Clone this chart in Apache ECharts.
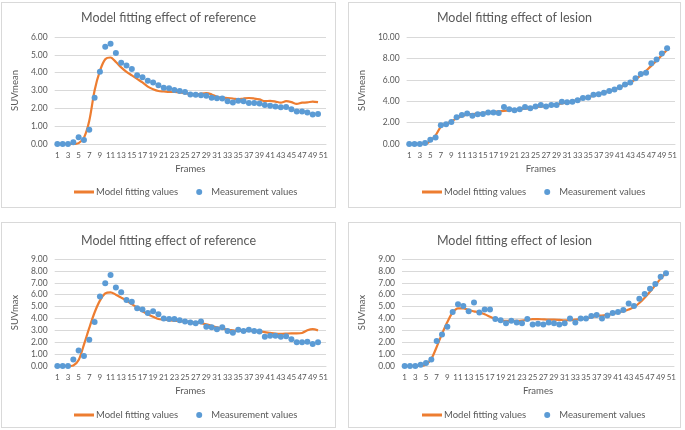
<!DOCTYPE html>
<html><head><meta charset="utf-8">
<script src="https://cdn.jsdelivr.net/npm/echarts@6/dist/echarts.min.js"></script>
<style>
html,body{margin:0;padding:0;background:#fff;width:685px;height:430px;overflow:hidden;}
.p{position:absolute;border:1px solid #d9d9d9;background:#fff;box-sizing:border-box;}
</style></head><body>
<div id="c1" class="p" style="left:1px;top:2px;width:335px;height:206px"></div>
<div id="c2" class="p" style="left:348px;top:2px;width:333px;height:206px"></div>
<div id="c3" class="p" style="left:1px;top:222px;width:335px;height:206px"></div>
<div id="c4" class="p" style="left:348px;top:222px;width:333px;height:206px"></div>
<script>
var frames = ['1','2','3','4','5','6','7','8','9','10','11','12','13','14','15','16','17','18','19','20','21','22','23','24','25','26','27','28','29','30','31','32','33','34','35','36','37','38','39','40','41','42','43','44','45','46','47','48','49','50','51'];

var refMeanFit = [0,0,0,0,0.05,0.35,1.3,3.0,4.1,4.75,4.85,4.6,4.3,4.05,3.85,3.65,3.45,3.22,3.07,2.97,2.95,2.92,2.92,2.9,2.85,2.8,2.78,2.82,2.85,2.78,2.65,2.6,2.58,2.55,2.5,2.55,2.58,2.55,2.5,2.4,2.42,2.38,2.32,2.4,2.35,2.25,2.32,2.33,2.38,2.35];
var refMeanMeas = [0,0,0,0.1,0.38,0.22,0.8,2.6,4.05,5.45,5.62,5.1,4.55,4.4,4.2,3.85,3.75,3.55,3.45,3.3,3.15,3.12,3.03,2.97,2.92,2.78,2.76,2.74,2.7,2.6,2.57,2.55,2.4,2.33,2.42,2.4,2.3,2.3,2.27,2.18,2.15,2.1,2.06,2.07,1.95,1.82,1.82,1.76,1.65,1.68];

var lesMeanFit = [0,0,0,0,0.3,0.8,1.6,1.9,2.1,2.4,2.6,2.75,2.8,2.85,2.9,2.95,3.0,3.05,3.1,3.15,3.2,3.25,3.3,3.35,3.45,3.5,3.55,3.6,3.7,3.8,3.9,4.0,4.1,4.25,4.4,4.5,4.65,4.8,4.95,5.1,5.3,5.5,5.75,6.05,6.4,6.85,7.3,7.8,8.3,8.8];
var lesMeanMeas = [0,0,0,0.1,0.4,0.6,1.75,1.85,2.05,2.5,2.7,2.85,2.65,2.78,2.8,2.95,2.95,2.9,3.45,3.25,3.15,3.25,3.45,3.35,3.5,3.65,3.5,3.65,3.65,3.95,3.9,3.95,4.1,4.3,4.35,4.6,4.65,4.8,4.95,5.1,5.3,5.55,5.75,6.15,6.55,6.65,7.55,7.9,8.45,8.95];

var refMaxFit = [0,0,0,0.05,0.5,1.8,3.2,4.5,5.5,6.1,6.2,6.0,5.75,5.5,5.2,4.9,4.6,4.35,4.15,3.95,3.9,3.85,3.8,3.78,3.75,3.7,3.65,3.6,3.5,3.38,3.25,3.15,3.05,3.0,2.95,2.95,2.95,2.95,2.9,2.85,2.78,2.72,2.7,2.72,2.75,2.75,2.78,3.0,3.1,3.0];
var refMaxMeas = [0,0,0,0.55,1.3,0.85,2.2,3.7,5.85,6.95,7.65,6.6,6.2,5.55,5.4,4.85,4.75,4.45,4.6,4.35,4.0,3.95,3.95,3.85,3.75,3.65,3.6,3.75,3.3,3.25,3.1,3.25,2.95,2.8,3.05,2.95,3.05,2.95,2.9,2.45,2.55,2.55,2.45,2.5,2.25,2.0,2.0,2.05,1.85,2.0];

var lesMaxFit = [0,0,0,0,0.15,0.6,1.6,2.7,3.7,4.5,4.85,4.85,4.7,4.6,4.5,4.35,4.15,3.95,3.85,3.8,3.8,3.8,3.82,3.88,3.95,3.95,3.92,3.9,3.9,3.88,3.85,3.85,3.9,3.95,4.0,4.1,4.2,4.25,4.3,4.4,4.5,4.6,4.75,4.95,5.3,5.75,6.25,6.8,7.35,7.8];
var lesMaxMeas = [0,0,0,0.1,0.25,0.55,2.1,2.65,3.3,4.55,5.2,5.05,4.6,5.35,4.5,4.75,4.75,3.95,3.85,3.6,3.8,3.65,3.6,3.95,3.5,3.55,3.5,3.65,3.6,3.5,3.6,4.0,3.65,4.0,4.0,4.2,4.3,4.0,4.25,4.45,4.55,4.7,5.25,5.05,5.65,6.05,6.5,6.9,7.5,7.8];

var FONT = 'Lato, "Open Sans", sans-serif';
var GRAY = '#595959';

function build(id, title, yName, yMax, yInt, fit, meas, g) {
  var chart = echarts.init(document.getElementById(id));
  chart.setOption({
    animation: false,
    textStyle: {fontFamily: FONT},
    title: {text: title, left: 'center', top: g.titleTop,
      textStyle: {fontFamily: FONT, fontSize: 12.5, fontWeight: 'normal', color: GRAY}},
    grid: {left: g.left, top: g.top, width: g.width, height: g.height},
    legend: {bottom: g.legendBottom, left: g.legendLeft, padding: 0, itemWidth: 20, itemHeight: 6, itemGap: 18,
      textStyle: {fontFamily: FONT, fontSize: 9.5, color: GRAY, padding: [0, 0, 0, -3]},
      data: [{name: 'Model fitting values', icon: 'path://M0,0h20v3h-20z'},
             {name: 'Measurement values', icon: 'circle'}]},
    xAxis: {type: 'category', data: frames, boundaryGap: true,
      name: 'Frames', nameLocation: 'middle', nameGap: 20,
      nameTextStyle: {fontFamily: FONT, fontSize: 9.5, color: GRAY},
      axisLine: {lineStyle: {color: '#d9d9d9'}}, axisTick: {show: false},
      axisLabel: {interval: 1, fontSize: 8, color: GRAY, margin: 7, fontFamily: FONT}},
    yAxis: {type: 'value', min: 0, max: yMax, interval: yInt,
      name: yName, nameLocation: 'middle', nameGap: g.yNameGap, nameRotate: 90,
      nameTextStyle: {fontFamily: FONT, fontSize: 9.5, color: GRAY},
      axisLine: {show: false}, axisTick: {show: false},
      splitLine: {lineStyle: {color: '#d9d9d9'}},
      axisLabel: {fontSize: 8.5, color: GRAY, margin: 7, fontFamily: FONT,
        formatter: function (v) { return v.toFixed(2); }}},
    series: [
      {name: 'Model fitting values', type: 'line', data: fit, smooth: 0.3, symbol: 'none',
        lineStyle: {color: '#ED7D31', width: 2.2}, itemStyle: {color: '#ED7D31'}, z: 2},
      {name: 'Measurement values', type: 'scatter', data: meas, symbolSize: 6,
        itemStyle: {color: '#5B9BD5', opacity: 1}, z: 3}
    ]
  });
}

build('c1', 'Model fitting effect of reference', 'SUVmean', 6, 1, refMeanFit, refMeanMeas,
  {titleTop: 3, left: 48, top: 34, width: 276, height: 107, yNameGap: 33, legendBottom: 10, legendLeft: 72});
build('c2', 'Model fitting effect of lesion', 'SUVmean', 10, 2, lesMeanFit, lesMeanMeas,
  {titleTop: 3, left: 50, top: 34, width: 276, height: 107, yNameGap: 35, legendBottom: 10, legendLeft: 73});
build('c3', 'Model fitting effect of reference', 'SUVmax', 9, 1, refMaxFit, refMaxMeas,
  {titleTop: 6, left: 48, top: 36, width: 276, height: 107, yNameGap: 33, legendBottom: 7, legendLeft: 72});
build('c4', 'Model fitting effect of lesion', 'SUVmax', 9, 1, lesMaxFit, lesMaxMeas,
  {titleTop: 6, left: 50, top: 36, width: 275, height: 107, yNameGap: 35, legendBottom: 7, legendLeft: 73});
</script>
</body></html>
